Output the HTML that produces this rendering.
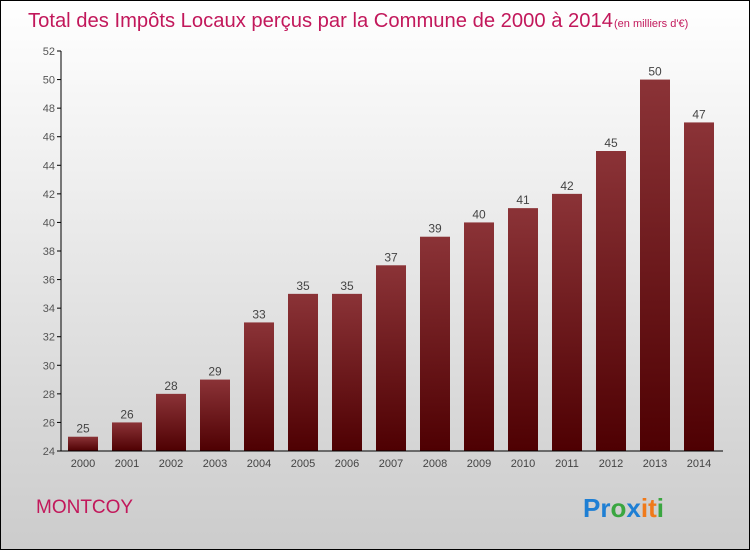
<!DOCTYPE html>
<html><head><meta charset="utf-8"><style>
body{margin:0}
#c{width:748px;height:548px;border:1px solid #000;background:linear-gradient(#ffffff,#f0f0f0 30%,#d8d8d8 75%,#cccccc);position:relative;font-family:"Liberation Sans",sans-serif}
</style></head><body>
<div id="c">
<svg id="s" width="748" height="548">
<defs><linearGradient id="g" x1="0" y1="0" x2="0" y2="1"><stop offset="0" stop-color="#8b3337"/><stop offset="1" stop-color="#4e0002"/></linearGradient></defs>
<text x="27" y="26" font-size="20" fill="#c2185b" textLength="585" lengthAdjust="spacingAndGlyphs">Total des Impôts Locaux perçus par la Commune de 2000 à 2014</text>
<text x="613" y="26" font-size="11" fill="#c2185b">(en milliers d'€)</text>
<text x="35" y="512" font-size="19" fill="#c2185b">MONTCOY</text>
<g font-size="26" font-weight="bold">
<text x="582" y="516"><tspan fill="#1e7fd4">Pr</tspan><tspan fill="#3aa640">o</tspan><tspan fill="#1e7fd4">x</tspan><tspan fill="#f07a1a">i</tspan><tspan fill="#f07a1a">t</tspan><tspan fill="#3aa640">i</tspan></text></g>
<g id="plot"></g>
</svg></div>
<script>
const years=["2000","2001","2002","2003","2004","2005","2006","2007","2008","2009","2010","2011","2012","2013","2014"];
const values=[25,26,28,29,33,35,35,37,39,40,41,42,45,50,47];
const yTicks=[24,26,28,30,32,34,36,38,40,42,44,46,48,50,52];
const NS="http://www.w3.org/2000/svg",p=document.getElementById('plot');
const y=v=>450-(v-24)*400/28, x=i=>67+i*44;
function mk(t,a,txt){const e=document.createElementNS(NS,t);for(const k in a)e.setAttribute(k,a[k]);if(txt!==undefined)e.textContent=txt;p.appendChild(e);return e;}
yTicks.forEach(v=>{
const t=mk('line',{x1:56,x2:60,y1:y(v),y2:y(v),stroke:'#000'});


const l=mk('text',{x:54,y:y(v)+4,'text-anchor':'end','font-size':11,fill:'#555'},v);


});
values.forEach((v,i)=>{
const b=mk('rect',{x:x(i),y:y(v),width:30,height:450-y(v),fill:'url(#g)'});


const vl=mk('text',{x:x(i)+15,y:y(v)-4,'text-anchor':'middle','font-size':12,fill:'#444'},v);


const xl=mk('text',{x:x(i)+15,y:466,'text-anchor':'middle','font-size':11,fill:'#444'},years[i]);


});
const ya=mk('line',{x1:60,x2:60,y1:50,y2:450,stroke:'#000'});


const xa=mk('line',{x1:60,x2:722,y1:450,y2:450,stroke:'#000'});


</script>
</body></html>
